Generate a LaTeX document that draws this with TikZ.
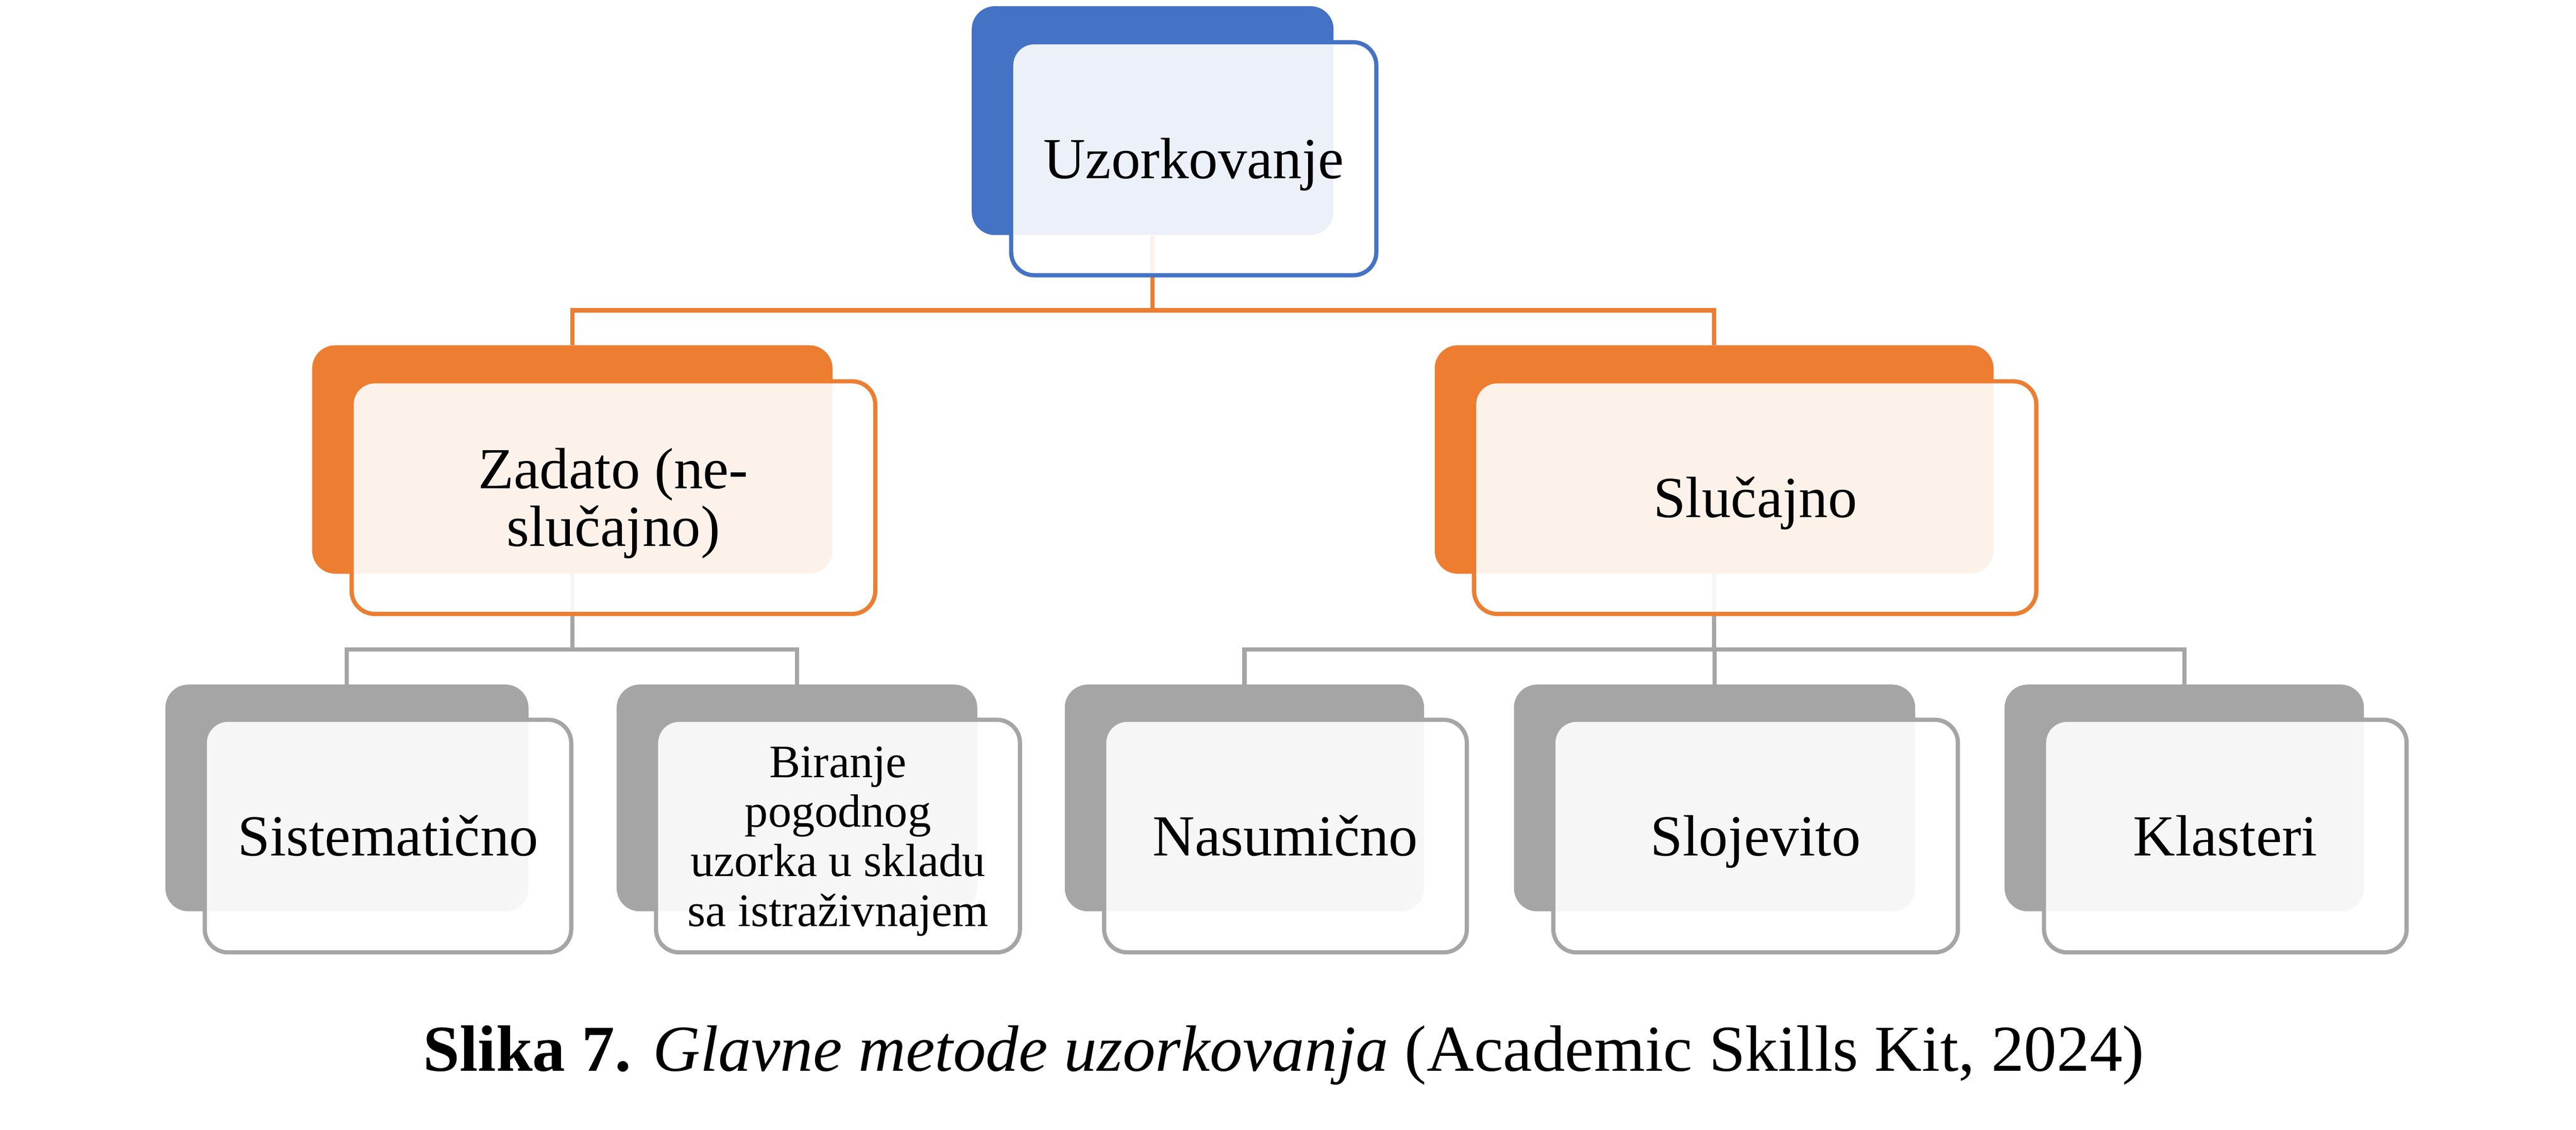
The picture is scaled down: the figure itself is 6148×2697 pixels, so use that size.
\documentclass[tikz,border=0pt]{standalone}
\usepackage{fontspec}
\setmainfont{Liberation Serif}
\definecolor{accblue}{HTML}{4472C4}
\definecolor{accorange}{HTML}{ED7D31}
\definecolor{accgray}{HTML}{A5A5A5}

\begin{document}
\begin{tikzpicture}[x=0.01cm, y=-0.01cm]
    \tikzstyle{back}=[rectangle, rounded corners=0.55cm, inner sep=0pt]
    \tikzstyle{front}=[rectangle, rounded corners=0.55cm, inner sep=0pt, fill=white, fill opacity=0.9, text opacity=1, line width=0.1cm, align=center, font=\fontsize{39.5}{39.3}\selectfont]
    \tikzstyle{oneline}=[text height=35.2pt, text depth=8.5pt]
    \tikzstyle{link}=[line width=0.1cm]
    \fill[white, use as bounding box] (0,0) rectangle (6148,2697);

    % back boxes
    \node[back, fill=accblue, minimum width=8.63cm, minimum height=5.46cm] (uzo) at (2751,288) {};
    \node[back, fill=accorange, minimum width=12.41cm, minimum height=5.45cm] (zad) at (1366,1097) {};
    \node[back, fill=accorange, minimum width=13.33cm, minimum height=5.45cm] (slu) at (4091,1097) {};
    \node[back, fill=accgray, minimum width=8.66cm, minimum height=5.41cm] (sis) at (828,1905) {};
    \node[back, fill=accgray, minimum width=8.60cm, minimum height=5.41cm] (bir) at (1902,1905) {};
    \node[back, fill=accgray, minimum width=8.57cm, minimum height=5.41cm] (nas) at (2970,1905) {};
    \node[back, fill=accgray, minimum width=9.57cm, minimum height=5.41cm] (slo) at (4092,1905) {};
    \node[back, fill=accgray, minimum width=8.57cm, minimum height=5.41cm] (kla) at (5213,1905) {};

    % connectors
    \draw[link, accorange] (uzo.south) -- ++(0,179) -| (zad.north);
    \draw[link, accorange] (uzo.south) -- ++(0,179) -| (slu.north);
    \draw[link, accgray] (zad.south) -- ++(0,180) -| (sis.north);
    \draw[link, accgray] (zad.south) -- ++(0,180) -| (bir.north);
    \draw[link, accgray] (slu.south) -- ++(0,180) -| (nas.north);
    \draw[link, accgray] (slu.south) -- ++(0,180) -| (slo.north);
    \draw[link, accgray] (slu.south) -- ++(0,180) -| (kla.north);

    % front boxes
    \node[front, oneline, draw=accblue, minimum width=8.71cm, minimum height=5.56cm] (uzof) at ([shift={(98,91)}]uzo) {Uzorkovanje};
    \node[front, draw=accorange, minimum width=12.49cm, minimum height=5.55cm] (zadf) at ([shift={(98,91)}]zad) {\rule{0pt}{35.2pt}Zadato (ne-\\slučajno)\rule[-8.5pt]{0pt}{0pt}};
    \node[front, oneline, draw=accorange, minimum width=13.41cm, minimum height=5.55cm] (sluf) at ([shift={(98,91)}]slu) {Slučajno};
    \node[front, oneline, draw=accgray, minimum width=8.74cm, minimum height=5.55cm] (sisf) at ([shift={(98,91)}]sis) {Sistematično};
    \node[front, draw=accgray, minimum width=8.68cm, minimum height=5.55cm, font=\fontsize{31.6}{33.6}\selectfont] (birf) at ([shift={(98,91)}]bir) {\rule{0pt}{28.2pt}Biranje\\pogodnog\\uzorka u skladu\\sa istraživnajem\rule[-6.8pt]{0pt}{0pt}};
    \node[front, oneline, draw=accgray, minimum width=8.65cm, minimum height=5.55cm] (nasf) at ([shift={(98,91)}]nas) {Nasumično};
    \node[front, oneline, draw=accgray, minimum width=9.65cm, minimum height=5.55cm] (slof) at ([shift={(98,91)}]slo) {Slojevito};
    \node[front, oneline, draw=accgray, minimum width=8.65cm, minimum height=5.55cm] (klaf) at ([shift={(98,91)}]kla) {Klasteri};

    \node[anchor=base, inner sep=0pt, font=\fontsize{44.5}{50}\selectfont] (cap) at (3064,2557) {\textbf{Slika 7.} \textit{Glavne metode uzorkovanja} (Academic Skills Kit, 2024)};
\end{tikzpicture}
\end{document}
